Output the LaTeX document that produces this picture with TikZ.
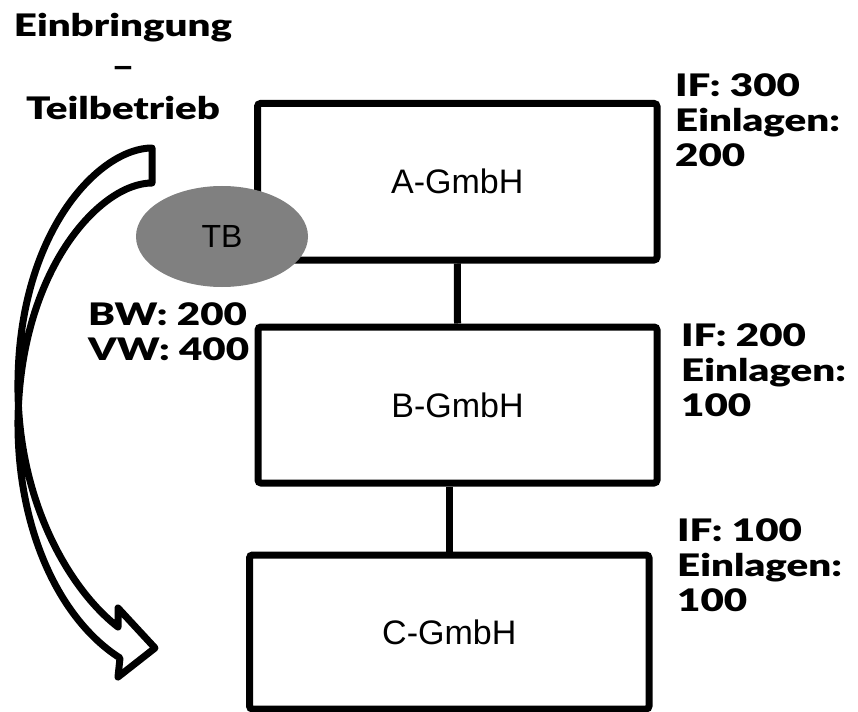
\documentclass[tikz,border=0pt]{standalone}
\usepackage{fontspec}
\setmainfont{Liberation Sans}
\IfFontExistsTF{Lato Black}
	{\newfontfamily\heavyfont{Lato Black}[FakeStretch=1.3]}
	{\newfontfamily\heavyfont{Liberation Sans Bold}[FakeStretch=1.24]}
\usetikzlibrary{shapes.geometric}

\begin{document}
\begin{tikzpicture}[
	x=1pt, y=-1pt,
	company/.style={rectangle, rounded corners=3pt, draw=black, line width=7pt, fill=white, font=\fontsize{34pt}{40pt}\selectfont},
	part/.style={ellipse, fill=black!50, minimum width=172pt, minimum height=101pt, inner sep=0pt, font=\fontsize{32pt}{38pt}\selectfont},
	info/.style={align=left, inner sep=0pt, anchor=north west, font=\heavyfont\fontsize{31pt}{35pt}\selectfont},
	link/.style={line width=7pt, draw=black},
	curvedarrow/.style={line width=7pt, draw=black, fill=white, line join=round}
]
\useasboundingbox (0,0) rectangle (858,711);
\node (agmbh) [company, minimum width=399.5pt, minimum height=156.5pt] at (457.25,181.75) {A-GmbH};
\node (bgmbh) [company, minimum width=399pt, minimum height=156pt] at (457.5,405) {B-GmbH};
\node (cgmbh) [company, minimum width=399.5pt, minimum height=154pt] at (449.25,632) {C-GmbH};
\draw [link] (agmbh.south) -- (bgmbh.north);
\draw [link] (bgmbh.south -| cgmbh.north) -- (cgmbh.north);
\node (tb) [part] at (222,236.5) {TB};
\node (title) [info, align=center, anchor=north, font=\heavyfont\fontsize{31pt}{41.5pt}\selectfont] at (123,13) {Einbringung\\–\\Teilbetrieb};
\node (values) [info] at (88,302) {BW: 200\\VW: 400};
\node (infoa) [info] at (675,73) {IF: 300\\Einlagen:\\200};
\node (infob) [info] at (681,323) {IF: 200\\Einlagen:\\100};
\node (infoc) [info] at (677,518) {IF: 100\\Einlagen:\\100};
\draw [curvedarrow] (152,148) .. controls (100,148) and (20,230) .. (18,380)
	.. controls (16,500) and (70,590) .. (118,627)
	-- (118,608) -- (155,648) -- (118,677) -- (120,658)
	.. controls (60,620) and (17,530) .. (18,420)
	.. controls (20,270) and (100,183) .. (152,183) -- cycle;
\end{tikzpicture}
\end{document}
